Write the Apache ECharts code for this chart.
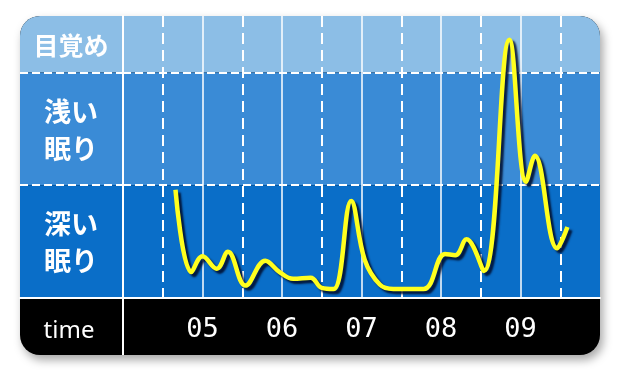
<!DOCTYPE html>
<html><head><meta charset="utf-8">
<style>html,body{margin:0;padding:0;background:#fff}#c{width:620px;height:380px}</style>
<script src="https://cdn.jsdelivr.net/npm/echarts@6/dist/echarts.min.js"></script>
</head><body><div id="c"></div>
<script>
// hour values (x) and sleep depth (0 = deep, 1 = light, 2 = awake)
const hours = [4.66, 4.86, 5.0, 5.18, 5.32, 5.54, 5.79, 5.97, 6.14, 6.36, 6.5, 6.65, 6.87, 7.04, 7.23, 7.4, 7.78, 8.05, 8.18, 8.32, 8.54, 8.86, 9.07, 9.18, 9.46, 9.59];
const depth = [0.96, 0.23, 0.37, 0.26, 0.41, 0.11, 0.33, 0.23, 0.17, 0.18, 0.09, 0.08, 0.86, 0.34, 0.12, 0.08, 0.08, 0.39, 0.38, 0.52, 0.24, 2.29, 1.03, 1.26, 0.44, 0.63];
const hourLabels = {5: '05', 6: '06', 7: '07', 8: '08', 9: '09'};
const stageLabels = ['深い\n眠り', '浅い\n眠り', '目覚め'];
const stageCenters = [0.5, 1.5, 2.25];

const chart = echarts.init(document.getElementById('c'));
const L = 20, R = 600, T = 16, B = 355, COL = 123, AX = 298;
const unit = (AX - T) / 2.5;
const yPix = v => AX - v * unit;

const white = '#ffffff';
const graphic = [
  {type: 'rect', z: -10, shape: {x: L, y: T, width: R - L, height: B - T, r: 20},
   style: {fill: '#000', shadowBlur: 10, shadowOffsetX: 3, shadowOffsetY: 5, shadowColor: 'rgba(0,0,0,0.35)'}},
  {type: 'rect', z: -9, shape: {x: L, y: T, width: R - L, height: yPix(2) - T, r: [20, 20, 0, 0]}, style: {fill: '#8cbee6'}},
  {type: 'rect', z: -9, shape: {x: L, y: yPix(2), width: R - L, height: unit}, style: {fill: '#3a8bd6'}},
  {type: 'rect', z: -9, shape: {x: L, y: yPix(1), width: R - L, height: unit}, style: {fill: '#0a6ec8'}},
  {type: 'line', z: 10, shape: {x1: COL, y1: AX, x2: COL, y2: B}, style: {stroke: white, lineWidth: 2}},
  {type: 'text', z: 10, x: 69, y: 331, style: {text: 'time', fill: white, font: '24px "Noto Sans"', align: 'center', verticalAlign: 'middle'}}
];
stageLabels.forEach((t, i) => {
  graphic.push({type: 'text', z: 10, x: 71, y: yPix(stageCenters[i]) + 1,
    style: {text: t, fill: white, align: 'center', verticalAlign: 'middle',
      font: 'bold ' + (i === 2 ? 25 : 27) + 'px "Noto Sans CJK JP"', lineHeight: 37}});
});

const dashed = {show: true, lineStyle: {color: white, width: 2, type: [8, 4]}};

chart.setOption({
  animation: false,
  graphic: graphic,
  grid: [
    {left: L, width: COL - L, top: T, bottom: 380 - AX},
    {left: COL, right: 620 - R, top: T, bottom: 380 - AX}
  ],
  xAxis: [
    {gridIndex: 0, type: 'value', min: 0, max: 1, axisLine: {show: true, onZero: false, lineStyle: {color: white, width: 2}},
     axisTick: {show: false}, axisLabel: {show: false}, splitLine: {show: false}},
    {gridIndex: 1, type: 'value', min: 4, max: 10, interval: 1,
     axisLine: {show: true, onZero: false, lineStyle: {color: white, width: 2}},
     axisTick: {show: false},
     axisLabel: {show: true, showMinLabel: false, showMaxLabel: false, margin: 18, color: white,
       fontFamily: 'DejaVu Sans Mono', fontSize: 27,
       formatter: v => hourLabels[v] || ''},
     splitLine: {show: true, showMinLine: false, showMaxLine: false, lineStyle: {color: white, width: 1.5}},
     minorTick: {show: false, splitNumber: 2},
     minorSplitLine: {show: true, lineStyle: {color: white, width: 2, type: [11, 6]}}}
  ],
  yAxis: [
    {gridIndex: 0, type: 'value', min: 0, max: 2.5, interval: 1, axisLine: {show: false}, axisTick: {show: false},
     axisLabel: {show: false}, splitLine: Object.assign({showMinLine: false, showMaxLine: false}, dashed)},
    {gridIndex: 1, type: 'value', min: 0, max: 2.5, interval: 1,
     axisLine: {show: true, lineStyle: {color: white, width: 2}}, axisTick: {show: false},
     axisLabel: {show: false}, splitLine: Object.assign({showMinLine: false, showMaxLine: false}, dashed)}
  ],
  series: [{
    type: 'line', xAxisIndex: 1, yAxisIndex: 1, smooth: 0.4, symbol: 'none', clip: false,
    data: hours.map((h, i) => [h, depth[i]]),
    lineStyle: {color: '#ffff1e', width: 4.5, shadowColor: 'rgba(0,10,40,0.85)', shadowBlur: 2, shadowOffsetX: 3, shadowOffsetY: 3}
  }]
});
</script></body></html>
